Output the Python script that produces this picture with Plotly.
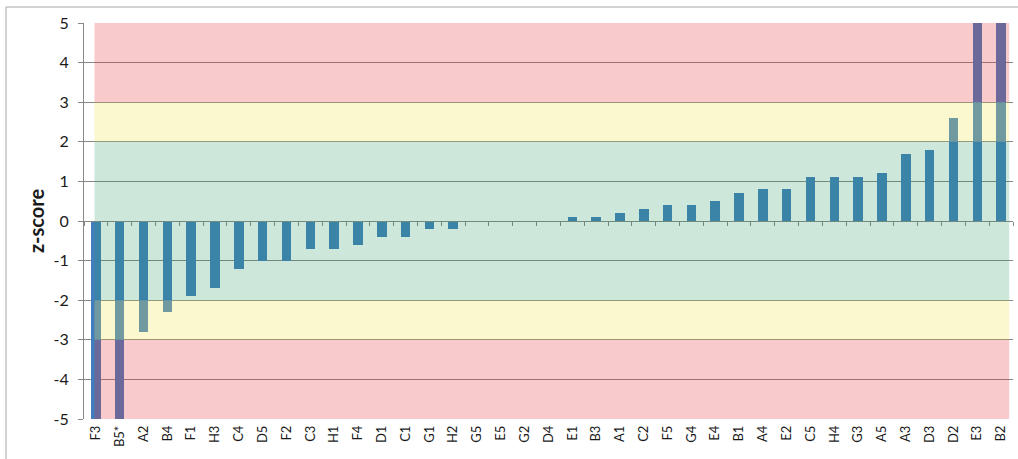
import plotly.graph_objects as go

# Sample labels in ranked order and their z-scores
labels = ["F3", "B5*", "A2", "B4", "F1", "H3", "C4", "D5", "F2", "C3",
          "H1", "F4", "D1", "C1", "G1", "H2", "G5", "E5", "G2", "D4",
          "E1", "B3", "A1", "C2", "F5", "G4", "E4", "B1", "A4", "E2",
          "C5", "H4", "G3", "A5", "A3", "D3", "D2", "E3", "B2"]
z_scores = [-6.2, -5.7, -2.8, -2.3, -1.9, -1.7, -1.2, -1.0, -1.0, -0.7,
            -0.7, -0.6, -0.4, -0.4, -0.2, -0.2, 0.0, 0.0, 0.0, 0.0,
            0.1, 0.1, 0.2, 0.3, 0.4, 0.4, 0.5, 0.7, 0.8, 0.8,
            1.1, 1.1, 1.1, 1.2, 1.7, 1.8, 2.6, 5.9, 6.4]

# Performance zones (|z| <= 2 satisfactory, 2-3 questionable, > 3 unsatisfactory)
zone_lower = [-5, -3, -2, 2, 3]
zone_upper = [-3, -2, 2, 3, 5]
zone_colors = ["rgba(227,43,47,0.25)", "rgba(240,229,81,0.27)",
               "rgba(40,155,95,0.23)", "rgba(240,229,81,0.27)",
               "rgba(227,43,47,0.25)"]

y_ticks = list(range(-5, 6))
grid_color = "#878787"
font_family = "Lato, 'Open Sans', sans-serif"

fig = go.Figure()

fig.add_trace(go.Bar(
    x=labels, y=z_scores,
    marker=dict(color="rgb(66,126,190)", line=dict(width=0)),
    width=0.4, showlegend=False, hoverinfo="x+y",
))

# Invisible trace carrying the category axis drawn through z = 0
fig.add_trace(go.Scatter(
    x=labels, y=[0] * len(labels), xaxis="x2", mode="markers",
    marker=dict(opacity=0), showlegend=False, hoverinfo="skip",
))

shapes = []
for lo, hi, col in zip(zone_lower, zone_upper, zone_colors):
    shapes.append(dict(
        type="rect", xref="x", yref="y", x0=-0.06, x1=38.34, y0=lo, y1=hi,
        fillcolor=col, line=dict(width=0), layer="above",
    ))

# Chart area border
shapes.append(dict(
    type="rect", xref="paper", yref="paper",
    x0=(6 - 84) / 929, x1=1.2, y0=-0.3, y1=(419 - 7) / 396,
    line=dict(color="#a6a6a6", width=1), fillcolor="rgba(0,0,0,0)",
    layer="below",
))

fig.update_layout(
    width=1018, height=459,
    margin=dict(l=84, r=5, t=23, b=40),
    paper_bgcolor="white", plot_bgcolor="white",
    font=dict(family=font_family, color="#1a1a1a"),
    bargap=0,
    shapes=shapes,
    xaxis=dict(
        type="category", categoryorder="array", categoryarray=labels,
        range=[-0.5, len(labels) - 0.5],
        showgrid=False, zeroline=False, showline=False, ticks="",
        tickangle=-90, tickfont=dict(size=13, color="#1a1a1a"),
        ticklabelstandoff=3,
    ),
    xaxis2=dict(
        type="category", categoryorder="array", categoryarray=labels,
        range=[-0.5, len(labels) - 0.5],
        overlaying="x", anchor="free", position=0.5, side="bottom",
        showline=True, linecolor=grid_color, linewidth=1,
        ticks="outside", ticklen=4, tickcolor=grid_color, tickson="boundaries",
        showticklabels=False, showgrid=False, zeroline=False,
    ),
    yaxis=dict(
        range=[-5, 5], tickvals=y_ticks, ticktext=[str(v) for v in y_ticks],
        showgrid=True, gridcolor=grid_color, gridwidth=1,
        zeroline=False, showline=True, linecolor=grid_color, linewidth=1,
        ticks="outside", ticklen=5, tickcolor=grid_color,
        tickfont=dict(size=16, color="#1a1a1a"), ticklabelstandoff=6,
    ),
    annotations=[dict(
        text="<b>z-score</b>", textangle=-90, showarrow=False,
        xref="paper", yref="paper", x=(36 - 84) / 929, y=0.5,
        xanchor="center", yanchor="middle",
        font=dict(size=20, family=font_family, color="#1a1a1a"),
    )],
)

fig.write_html("out.html")
